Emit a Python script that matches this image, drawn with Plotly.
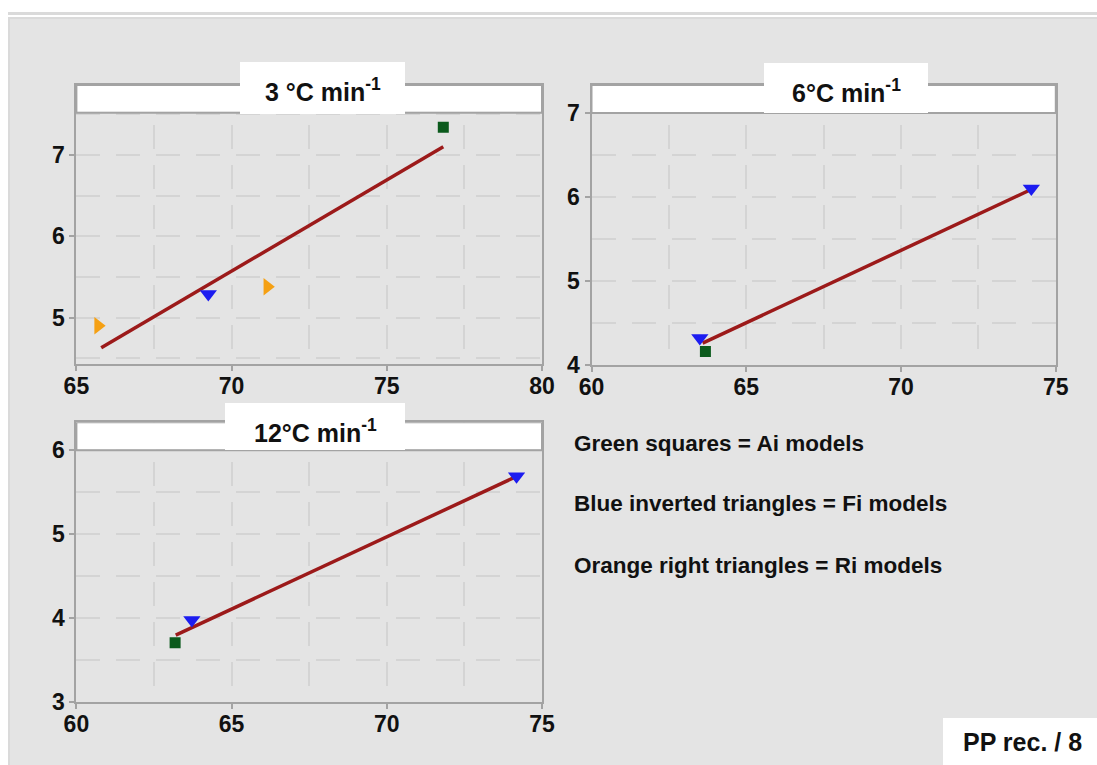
import plotly.graph_objects as go

# ---------------- data ----------------
panel_titles = ["3 °C min<sup>-1</sup>", "6°C min<sup>-1</sup>", "12°C min<sup>-1</sup>"]

# panel 1 : 3 °C/min
p1_green_x = [76.82]
p1_green_y = [7.34]
p1_blue_x = [69.25]
p1_blue_y = [5.29]
p1_orange_x = [65.70, 71.15]
p1_orange_y = [4.90, 5.38]
p1_fit_x = [65.80, 76.82]
p1_fit_y = [4.63, 7.10]

# panel 2 : 6 °C/min
p2_green_x = [63.68]
p2_green_y = [4.16]
p2_blue_x = [63.50, 74.21]
p2_blue_y = [4.32, 6.10]
p2_fit_x = [63.59, 74.15]
p2_fit_y = [4.26, 6.08]

# panel 3 : 12 °C/min
p3_green_x = [63.18]
p3_green_y = [3.71]
p3_blue_x = [63.72, 74.18]
p3_blue_y = [3.98, 5.69]
p3_fit_x = [63.20, 74.13]
p3_fit_y = [3.80, 5.68]

p1_xticks = [65, 70, 75, 80]
p1_yticks = [5, 6, 7]
p2_xticks = [60, 65, 70, 75]
p2_yticks = [4, 5, 6, 7]
p3_xticks = [60, 65, 70, 75]
p3_yticks = [3, 4, 5, 6]

legend_lines = ["Green squares = Ai models",
                "Blue inverted triangles = Fi models",
                "Orange right triangles = Ri models"]
footer_text = "PP rec. / 8"

# ---------------- styling ----------------
W, H = 1097, 765
FONT = "Liberation Sans, Arial, sans-serif"
TXT = "#111111"
BG = "#e4e4e4"
FRAME = "#a3a3a3"
GRID = "#d4d4d4"
GREEN = "#0b5a1c"
BLUE = "#1c1cf0"
ORANGE = "#f5a013"
RED = "#9c1a1a"


def px_x(v):
    return v / W


def px_y(v):
    return 1 - v / H


fig = go.Figure()

panels = [
    dict(ax="", green=(p1_green_x, p1_green_y), blue=(p1_blue_x, p1_blue_y),
         orange=(p1_orange_x, p1_orange_y), fit=(p1_fit_x, p1_fit_y),
         xdom=[76.4, 542], ydom=[85, 364], xr=[65, 80], yr=[4.43, 7.86], head=7.52,
         xt=p1_xticks, yt=p1_yticks, tbox=[240, 405, 62, 114]),
    dict(ax="2", green=(p2_green_x, p2_green_y), blue=(p2_blue_x, p2_blue_y),
         orange=None, fit=(p2_fit_x, p2_fit_y),
         xdom=[591.5, 1055.8], ydom=[85, 365], xr=[60, 75], yr=[4, 7.333], head=7.0,
         xt=p2_xticks, yt=p2_yticks, tbox=[764, 928, 63, 113]),
    dict(ax="3", green=(p3_green_x, p3_green_y), blue=(p3_blue_x, p3_blue_y),
         orange=None, fit=(p3_fit_x, p3_fit_y),
         xdom=[76.4, 542], ydom=[422.3, 702.3], xr=[60, 75], yr=[3, 6.333], head=6.0,
         xt=p3_xticks, yt=p3_yticks, tbox=[225, 405, 403, 450]),
]

shapes = []
annotations = []

# outer window decoration
shapes.append(dict(type="rect", xref="paper", yref="paper", x0=px_x(8), x1=1, y0=0, y1=px_y(12),
                   fillcolor="#dadada", line=dict(width=0), layer="below"))
shapes.append(dict(type="rect", xref="paper", yref="paper", x0=px_x(8), x1=1, y0=px_y(17), y1=px_y(15),
                   fillcolor="#ffffff", line=dict(width=0), layer="below"))
shapes.append(dict(type="rect", xref="paper", yref="paper", x0=px_x(10), x1=1, y0=0, y1=px_y(19),
                   fillcolor=BG, line=dict(width=0), layer="below"))

DASH = "24px,16px"

for i, p in enumerate(panels):
    ax = p["ax"]
    xa = "x" + ax
    ya = "y" + ax
    fx, fy = p["fit"]
    fig.add_trace(go.Scatter(x=fx, y=fy, mode="lines", line=dict(color=RED, width=3.5),
                             xaxis=xa, yaxis=ya, showlegend=False, hoverinfo="skip"))
    if p["orange"] is not None:
        ox, oy = p["orange"]
        fig.add_trace(go.Scatter(x=ox, y=oy, mode="markers",
                                 marker=dict(symbol="triangle-right", size=15, color=ORANGE),
                                 xaxis=xa, yaxis=ya, showlegend=False))
    bx, by = p["blue"]
    fig.add_trace(go.Scatter(x=bx, y=by, mode="markers",
                             marker=dict(symbol="triangle-down", size=15, color=BLUE),
                             xaxis=xa, yaxis=ya, showlegend=False))
    gx, gy = p["green"]
    fig.add_trace(go.Scatter(x=gx, y=gy, mode="markers",
                             marker=dict(symbol="square", size=11, color=GREEN),
                             xaxis=xa, yaxis=ya, showlegend=False))

    xkey = "xaxis" + ax
    ykey = "yaxis" + ax
    common = dict(showline=True, linecolor=FRAME, linewidth=2, mirror=True,
                  ticks="outside", ticklen=5, tickcolor=FRAME, tickwidth=2,
                  zeroline=False, showgrid=True, gridcolor=GRID, gridwidth=2,
                  griddash=DASH, automargin=False,
                  tickfont=dict(family=FONT, size=23, color=TXT, weight="bold"))
    fig.update_layout({
        xkey: dict(common, domain=[px_x(p["xdom"][0]), px_x(p["xdom"][1])], range=p["xr"],
                   anchor=ya, tickvals=p["xt"], ticklabelstandoff=-5,
                   minor=dict(dtick=2.5, tick0=60, showgrid=True, gridcolor=GRID,
                              gridwidth=2, griddash=DASH, ticks="")),
        ykey: dict(common, domain=[px_y(p["ydom"][1]), px_y(p["ydom"][0])], range=p["yr"],
                   anchor=xa, tickvals=p["yt"],
                   minor=dict(dtick=0.5, tick0=0, showgrid=True, gridcolor=GRID,
                              gridwidth=2, griddash=DASH, ticks="")),
    })

    # header band above the plotting area (covers the grid there)
    shapes.append(dict(type="rect", xref=xa + " domain", yref=ya, x0=0, x1=1,
                       y0=p["head"] + 0.01, y1=p["yr"][1], fillcolor="#ffffff",
                       line=dict(width=0), layer="above"))
    # re-draw the frame of the header band and the separator line
    shapes.append(dict(type="rect", xref=xa + " domain", yref=ya, x0=0, x1=1,
                       y0=p["head"], y1=p["yr"][1], fillcolor="rgba(0,0,0,0)",
                       line=dict(color=FRAME, width=2), layer="above"))
    # title tab
    l, r, t, b = p["tbox"]
    shapes.append(dict(type="rect", xref="paper", yref="paper", x0=px_x(l), x1=px_x(r),
                       y0=px_y(b), y1=px_y(t), fillcolor="#ffffff", line=dict(width=0),
                       layer="above"))
    annotations.append(dict(text=panel_titles[i], xref="paper", yref="paper",
                            x=px_x((l + r) / 2), y=px_y(t + 28), xanchor="center", yanchor="middle",
                            showarrow=False,
                            font=dict(family=FONT, size=25, color=TXT, weight="bold")))

# legend text
for k, (txt, yc) in enumerate(zip(legend_lines, [443, 503, 565])):
    annotations.append(dict(text=txt, xref="paper", yref="paper", x=px_x(572), y=px_y(yc),
                            xanchor="left", yanchor="middle", showarrow=False,
                            font=dict(family=FONT, size=22.5, color=TXT, weight="bold")))

# footer box
shapes.append(dict(type="rect", xref="paper", yref="paper", x0=px_x(943), x1=1, y0=0, y1=px_y(718),
                   fillcolor="#ffffff", line=dict(width=0), layer="above"))
annotations.append(dict(text=footer_text, xref="paper", yref="paper", x=px_x(1022), y=px_y(742),
                        xanchor="center", yanchor="middle", showarrow=False,
                        font=dict(family=FONT, size=25, color=TXT, weight="bold")))

fig.update_layout(width=W, height=H, margin=dict(l=0, r=0, t=0, b=0, autoexpand=False),
                  paper_bgcolor="#ffffff", plot_bgcolor="#ffffff",
                  shapes=shapes, annotations=annotations, showlegend=False)

fig.write_html("out.html")
